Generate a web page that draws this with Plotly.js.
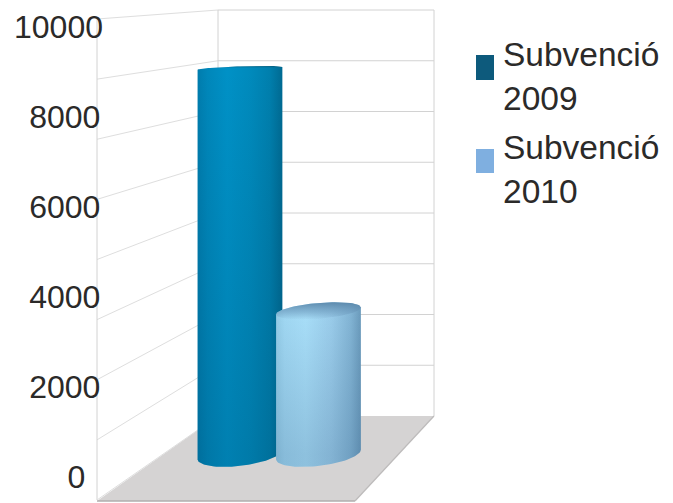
<!DOCTYPE html>
<html>
<head>
<meta charset="utf-8">
<script src="https://cdn.plot.ly/plotly-3.0.1.min.js"></script>
<style>html,body{margin:0;padding:0;background:#fff}</style>
</head>
<body>
<div id="chart" style="width:673px;height:503px"></div>
<script>
// ---- data ----
const seriesNames = ["Subvenció<br>2009", "Subvenció<br>2010"];
const seriesValues = [9080, 3690];
const tickValues = [0, 2000, 4000, 6000, 8000, 10000];
const tickLabels = ["0\u00a0\u00a0", "2000\u200a", "4000\u200a", "6000\u200a", "8000\u200a", "10000"];
const gridStepCount = 8;

// ---- styling ----
const W = 673, H = 503;
const M = {l: 104, r: 233, t: 5, b: 0};
const legendColors = ["#0d5a7c", "#7fafe0"];
const sideScales = [
  [[0,"#007cad"],[0.12,"#0087ba"],[0.35,"#0091c6"],[0.62,"#008abc"],[0.85,"#007fad"],[1,"#006a92"]],
  [[0,"#93cbe6"],[0.1,"#a0d7f2"],[0.35,"#a8def8"],[0.65,"#9accea"],[0.88,"#82b4d4"],[1,"#6a9abb"]]
];
const shadeScales = [
  [[0,"rgba(0,40,70,0)"],[1,"rgba(0,40,70,0.16)"]],
  [[0,"rgba(50,90,130,0)"],[1,"rgba(50,90,130,0.22)"]]
];
const capScales = [
  [[0,"rgba(8,100,135,0)"],[0.6,"rgba(8,100,135,0)"],[1,"rgba(8,90,120,0.95)"]],
  [[0,"rgba(105,150,185,0)"],[0.45,"rgba(105,150,185,0.55)"],[1,"rgba(90,135,170,0.95)"]]
];
const FLOOR_VALUE = 500, HALF_WIDTH = 0.54;
const yRange = [-578, 10489], xRange = [-1.732, 2.548];

// pixel helpers for the decorative walls / legend
const px = x => (x - M.l) / (W - M.l - M.r);
const py = y => 1 - (y - M.t) / (H - M.t - M.b);
const line = (x0,y0,x1,y1,c,w) => ({type:"line",xref:"paper",yref:"paper",layer:"below",
  x0:px(x0),y0:py(y0),x1:px(x1),y1:py(y1),line:{color:c,width:w||1}});

const shapes = [];
// floor
shapes.push({type:"path",xref:"paper",yref:"paper",layer:"below",fillcolor:"#d5d3d3",line:{width:0},
  path:`M${px(218)},${py(416)}L${px(434)},${py(416)}L${px(355)},${py(501)}L${px(97)},${py(501)}Z`});
shapes.push(line(97,501,355,501,"#b0aeae",1.5));
shapes.push(line(434,416,355,501,"#bdbbbb",1.2));
// walls
for (let k = 1; k <= gridStepCount; k++) {
  const t = k / gridStepCount;
  const back = 416 - 406 * t, left = 500 - 481 * t;
  shapes.push(line(218, back, 434, back, "#d2d2d2", 1));
  shapes.push(line(97, left, 218, back, "#dedede", 1));
}
shapes.push(line(97,19,97,500,"#d2d2d2",1));
shapes.push(line(218,10,218,416,"#d2d2d2",1));
shapes.push(line(434,10,434,416,"#d2d2d2",1));
shapes.push(line(97,500,218,416,"#dedede",1));

// ellipse perspective from the value level
const bulge = v => 12 - 0.0011 * v;
const tilt = v => 5 - 0.0004 * v;
const ySpan = (yRange[1] - yRange[0]) / (H - M.t - M.b);
const xSpan = HALF_WIDTH;
const arc = (c, v, from, to) => {
  const xs = [], ys = [], n = 48;
  for (let i = 0; i <= n; i++) {
    const a = from + (to - from) * i / n;
    xs.push(c + xSpan * Math.cos(a));
    ys.push(v + ySpan * (tilt(v) * Math.cos(a) - bulge(v) * Math.sin(a)));
  }
  return [xs, ys];
};
const poly = (pts, grad, name) => ({type:"scatter",mode:"lines",x:pts[0],y:pts[1],fill:"toself",
  line:{width:0},fillgradient:grad,hoverinfo:"skip",showlegend:false,name:name});

const traces = [];
seriesValues.forEach((v, i) => {
  const top = v, low = FLOOR_VALUE;
  const backArc = arc(i, top, Math.PI, 2 * Math.PI);   // upper silhouette, left to right
  const frontLow = arc(i, low, 0, Math.PI);            // lower silhouette, right to left
  const body = [backArc[0].concat(frontLow[0]), backArc[1].concat(frontLow[1])];
  const nm = seriesNames[i].replace("<br>", " ");
  traces.push(poly(body, {type:"horizontal",colorscale:sideScales[i],
    start:i - HALF_WIDTH, stop:i + HALF_WIDTH}, nm));
  traces.push(poly(body, {type:"vertical",colorscale:shadeScales[i],start:top, stop:low}, nm));
  const frontTop = arc(i, top, 0, Math.PI);
  const cap = [backArc[0].concat(frontTop[0]), backArc[1].concat(frontTop[1])];
  const yLow = Math.min(...cap[1]), yHigh = Math.max(...cap[1]);
  traces.push(poly(cap, {type:"vertical",colorscale:capScales[i],start:yLow, stop:yHigh}, nm));
});

const annotations = seriesNames.map((n, i) => ({
  text:n, xref:"paper", yref:"paper", x:px(502), y:py([35,128][i]), xanchor:"left", yanchor:"top",
  align:"left", showarrow:false, borderpad:0, font:{family:"Liberation Sans",size:33.5,color:"#2b2a29"}
}));
[[55,80],[149,173]].forEach((yy, i) => shapes.push({type:"rect",xref:"paper",yref:"paper",
  x0:px(476),x1:px(494),y0:py(yy[1]),y1:py(yy[0]),fillcolor:legendColors[i],line:{width:0}}));

Plotly.newPlot("chart", traces, {
  width:W, height:H, margin:{l:M.l,r:M.r,t:M.t,b:M.b,pad:0},
  paper_bgcolor:"#fff", plot_bgcolor:"rgba(0,0,0,0)", showlegend:false,
  font:{family:"Liberation Sans",color:"#2b2a29"},
  xaxis:{range:xRange,visible:false,fixedrange:true},
  yaxis:{range:yRange,tickmode:"array",tickvals:tickValues,ticktext:tickLabels,
    tickfont:{family:"Liberation Sans",size:32,color:"#2b2a29"},
    showgrid:false,zeroline:false,showline:false,ticks:"",ticklen:0,fixedrange:true,automargin:false},
  shapes:shapes, annotations:annotations
}, {displayModeBar:false, staticPlot:true});
</script>
</body>
</html>
